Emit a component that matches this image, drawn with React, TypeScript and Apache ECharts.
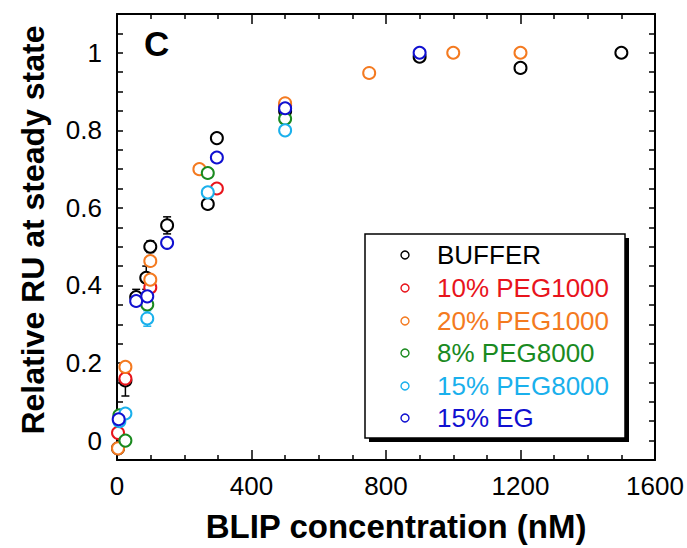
import React, { useEffect, useRef } from "react";
import * as echarts from "echarts";

const FONT = '"Liberation Sans", Arial, Helvetica, sans-serif';

const seriesNames = ["BUFFER", "10% PEG1000", "20% PEG1000", "8% PEG8000", "15% PEG8000", "15% EG"];
const seriesColors = ["#000000", "#e8141c", "#f47a20", "#1a8a1f", "#1ab0ec", "#1010d0"];

const bufferX = [3, 25, 57, 87, 99, 149, 270, 297, 500, 900, 1200, 1500];
const bufferY = [-0.02, 0.155, 0.37, 0.42, 0.5, 0.555, 0.61, 0.78, 0.85, 0.99, 0.961, 1.0];
const bufferErr = [0.01, 0.04, 0.02, 0.03, 0.015, 0.022, 0.01, 0.01, 0.01, 0.01, 0.01, 0.006];

const peg1000_10X = [3, 25, 99, 297, 500];
const peg1000_10Y = [0.02, 0.16, 0.395, 0.65, 0.865];
const peg1000_10Err = [0.01, 0.015, 0.01, 0.01, 0.008];

const peg1000_20X = [3, 25, 99, 99, 245, 500, 750, 1000, 1200];
const peg1000_20Y = [-0.02, 0.19, 0.415, 0.463, 0.7, 0.87, 0.948, 1.0, 1.0];
const peg1000_20Err = [0, 0, 0, 0, 0, 0, 0, 0, 0];

const peg8000_8X = [7, 25, 90, 270, 500];
const peg8000_8Y = [0.065, 0.0, 0.351, 0.69, 0.83];
const peg8000_8Err = [0.01, 0.01, 0.01, 0.01, 0.01];

const peg8000_15X = [7, 25, 90, 270, 500];
const peg8000_15Y = [0.05, 0.07, 0.315, 0.64, 0.8];
const peg8000_15Err = [0.008, 0.008, 0.02, 0.01, 0.008];

const egX = [5, 57, 90, 149, 297, 500, 900];
const egY = [0.055, 0.36, 0.372, 0.51, 0.73, 0.857, 1.0];
const egErr = [0.008, 0.008, 0.01, 0.008, 0.008, 0.008, 0.008];

const allX = [bufferX, peg1000_10X, peg1000_20X, peg8000_8X, peg8000_15X, egX];
const allY = [bufferY, peg1000_10Y, peg1000_20Y, peg8000_8Y, peg8000_15Y, egY];
const allErr = [bufferErr, peg1000_10Err, peg1000_20Err, peg8000_8Err, peg8000_15Err, egErr];

const xTickLabels = [0, 400, 800, 1200, 1600];
const yTickLabels = [0, 0.2, 0.4, 0.6, 0.8, 1];

export default function App() {
  const ref = useRef<HTMLDivElement>(null);
  useEffect(() => {
    if (!ref.current) return;
    document.body.style.margin = "0";
    const chart = echarts.init(ref.current, null, { renderer: "svg" });

    const scatterSeries: any[] = [];
    const errSeries: any[] = [];
    seriesNames.forEach((name, i) => {
      const data = allX[i].map((x, j) => [x, allY[i][j], allErr[i][j]]);
      errSeries.push({
        type: "custom",
        name: name + " err",
        xAxisIndex: 0,
        yAxisIndex: 0,
        z: 3,
        silent: true,
        data: data.filter((d) => d[2] > 0),
        encode: { x: 0, y: 1 },
        renderItem: (params: any, api: any) => {
          const x = api.value(0);
          const y = api.value(1);
          const e = api.value(2);
          const top = api.coord([x, y + e]);
          const bot = api.coord([x, y - e]);
          const w = 4;
          const st = { stroke: seriesColors[i], lineWidth: 1.5 };
          return {
            type: "group",
            children: [
              { type: "line", shape: { x1: top[0], y1: top[1], x2: bot[0], y2: bot[1] }, style: st },
              { type: "line", shape: { x1: top[0] - w, y1: top[1], x2: top[0] + w, y2: top[1] }, style: st },
              { type: "line", shape: { x1: bot[0] - w, y1: bot[1], x2: bot[0] + w, y2: bot[1] }, style: st },
            ],
          };
        },
      });
      scatterSeries.push({
        type: "scatter",
        name,
        xAxisIndex: 0,
        yAxisIndex: 0,
        z: 4,
        symbol: "emptyCircle",
        symbolSize: 12,
        itemStyle: { color: seriesColors[i], borderColor: seriesColors[i], borderWidth: 1.7, opacity: 1 },
        data: allX[i].map((x, j) => [x, allY[i][j]]),
      });
    });

    const axisLine = { show: true, onZero: false, lineStyle: { color: "#000", width: 2 } };
    const yLabelFmt = (v: number) => {
      const r = Math.round(v * 100);
      return yTickLabels.some((t) => Math.round(t * 100) === r) ? String(r / 100) : "";
    };

    const legendRowsY = [255, 288, 321, 353, 386, 418];
    const legendGraphics: any[] = [];
    seriesNames.forEach((n, i) => {
      legendGraphics.push({
        type: "circle",
        z: 5,
        shape: { cx: 405, cy: legendRowsY[i], r: 4 },
        style: { fill: "#fff", stroke: seriesColors[i], lineWidth: 1.4 },
      });
      legendGraphics.push({
        type: "text",
        z: 5,
        x: 437,
        y: legendRowsY[i],
        style: {
          text: n,
          fontSize: 26,
          fontFamily: FONT,
          fill: seriesColors[i],
          verticalAlign: "middle",
          align: "left",
        },
      });
    });

    chart.setOption({
      animation: false,
      backgroundColor: "#fff",
      grid: { left: 117, right: 32, top: 14, bottom: 83, containLabel: false },
      xAxis: [
        {
          type: "value",
          min: 0,
          max: 1600,
          interval: 400,
          position: "bottom",
          axisLine,
          axisTick: { show: true, inside: true, length: 10, lineStyle: { color: "#000", width: 1.5 } },
          minorTick: { show: true, splitNumber: 4, length: 5, lineStyle: { color: "#000", width: 1.5 } },
          splitLine: { show: false },
          axisLabel: {
            fontSize: 26,
            fontFamily: FONT,
            color: "#000",
            margin: 13,
            formatter: (v: number) => (xTickLabels.includes(v) ? String(v) : ""),
          },
          name: "BLIP concentration (nM)",
          nameLocation: "middle",
          nameGap: 50,
          nameTextStyle: {
            fontSize: 33,
            fontWeight: "bold",
            fontFamily: FONT,
            color: "#000",
            padding: [0, 0, 0, 20],
          },
        },
        {
          type: "value",
          min: 0,
          max: 1600,
          interval: 400,
          position: "top",
          axisLine,
          axisTick: { show: true, inside: true, length: 10, lineStyle: { color: "#000", width: 1.5 } },
          minorTick: { show: true, splitNumber: 4, length: 5, lineStyle: { color: "#000", width: 1.5 } },
          splitLine: { show: false },
          axisLabel: { show: false },
        },
      ],
      yAxis: [
        {
          type: "value",
          min: -0.05,
          max: 1.1,
          interval: 0.05,
          position: "left",
          axisLine,
          axisTick: { show: true, inside: true, length: 6, lineStyle: { color: "#000", width: 1.5 } },
          splitLine: { show: false },
          axisLabel: { fontSize: 26, fontFamily: FONT, color: "#000", margin: 15, formatter: yLabelFmt },
          name: "Relative RU at steady state",
          nameLocation: "middle",
          nameGap: 68,
          nameTextStyle: {
            fontSize: 32,
            fontWeight: "bold",
            fontFamily: FONT,
            color: "#000",
            padding: [0, 0, 0, 14],
          },
        },
        {
          type: "value",
          min: -0.05,
          max: 1.1,
          interval: 0.05,
          position: "right",
          axisLine,
          axisTick: { show: true, inside: true, length: 6, lineStyle: { color: "#000", width: 1.5 } },
          splitLine: { show: false },
          axisLabel: { show: false },
        },
      ],
      graphic: [
        { type: "rect", z: 0, shape: { x: 369, y: 238, width: 260, height: 204 }, style: { fill: "#000" } },
        {
          type: "rect",
          z: 1,
          shape: { x: 365, y: 234, width: 260, height: 204 },
          style: { fill: "#fff", stroke: "#000", lineWidth: 1.5 },
        },
        ...legendGraphics,
        {
          type: "text",
          x: 144,
          y: 26,
          style: { text: "C", fontSize: 35, fontWeight: "bold", fontFamily: FONT, fill: "#000" },
        },
      ],
      series: [...errSeries, ...scatterSeries],
    });
    return () => chart.dispose();
  }, []);
  return <div ref={ref} style={{ width: 687, height: 548 }} />;
}
